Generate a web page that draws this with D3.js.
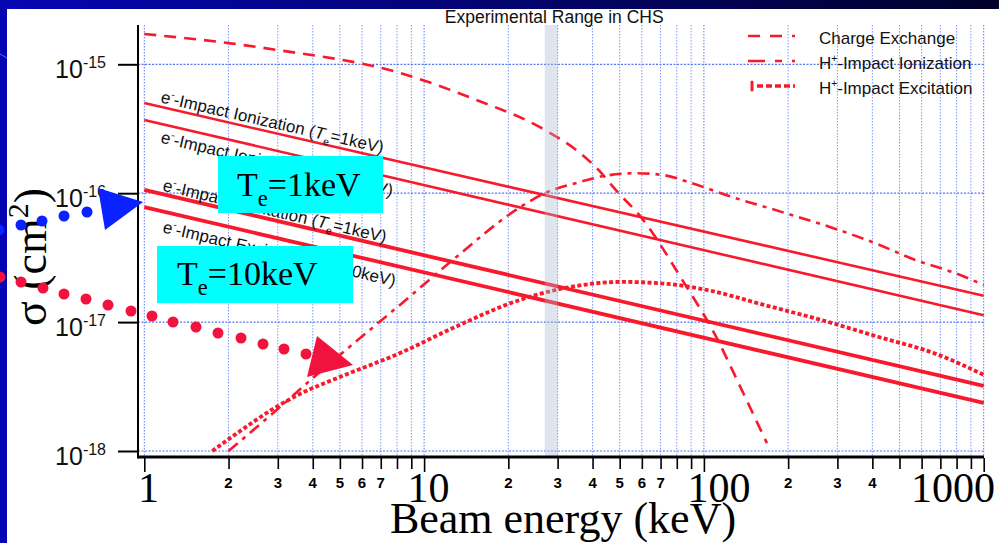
<!DOCTYPE html>
<html>
<head>
<meta charset="utf-8">
<script src="https://cdn.jsdelivr.net/npm/d3@7"></script>
<style>
    body { margin: 0; background: #ffffff; }
    svg { display: block; }
</style>
</head>
<body>
<div id="chart"></div>
<script>
// ---- values: beam energy (keV) -> cross section (cm^2) ----
const cxEnergy = [1, 2, 3, 8, 15, 27, 35, 41, 50, 58, 84, 112, 131, 168];
const cxSigma = [1.72e-15, 1.46e-15, 1.29e-15, 8.7e-16, 5.4e-16, 3.1e-16, 2.16e-16, 1.6e-16, 9.8e-17, 7.0e-17, 2.1e-17, 7.3e-18, 3.6e-18, 1.15e-18];

const hIonEnergy = [2, 3, 4, 6.8, 8.2, 12.4, 22.4, 27, 36, 44, 57, 72, 90, 127, 192, 287, 409, 578, 791, 1000];
const hIonSigma = [1.0e-18, 2.12e-18, 3.68e-18, 9.7e-18, 1.36e-17, 2.92e-17, 7.96e-17, 1.0e-16, 1.22e-16, 1.36e-16, 1.43e-16, 1.38e-16, 1.2e-16, 9.3e-17, 7.1e-17, 5.4e-17, 4.1e-17, 3.0e-17, 2.4e-17, 1.94e-17];

const hExcEnergy = [1.75, 2.08, 3, 3.6, 5, 8.2, 13.1, 21.1, 31.9, 51, 74, 102, 164, 262, 419, 675, 1000];
const hExcSigma = [1.0e-18, 1.31e-18, 2.23e-18, 2.77e-18, 3.75e-18, 5.75e-18, 9.3e-18, 1.44e-17, 1.84e-17, 2.05e-17, 1.98e-17, 1.78e-17, 1.36e-17, 1.04e-17, 7.7e-18, 5.67e-18, 3.9e-18];

// electron impact lines (straight in log-log)
const eLineEnergy = [1, 1000];
const eIon1Sigma = [5.0e-16, 1.6e-17];
const eIon10Sigma = [3.7e-16, 1.13e-17];
const eExc1Sigma = [1.06e-16, 3.2e-18];
const eExc10Sigma = [7.8e-17, 2.36e-18];

const eLineNames = ["Ionization", "Ionization", "Excitation", "Excitation"];
const eLineTemps = ["1keV", "10keV", "1keV", "10keV"];

const legendNames = ["Charge Exchange", "Impact Ionization", "Impact Excitation"];

const majorTicks = [1, 10, 100, 1000];
const majorTickLabels = ["1", "10", "100", "1000"];
const minorTicks = [2, 3, 4, 5, 6, 7, 8, 9, 20, 30, 40, 50, 60, 70, 80, 90, 200, 300, 400, 500, 600, 700, 800, 900];
const labeledMinorTicks = [2, 3, 4, 5, 6, 7, 20, 30, 40, 50, 60, 70, 200, 300, 400];
const minorTickLabels = ["2", "3", "4", "5", "6", "7", "2", "3", "4", "5", "6", "7", "2", "3", "4"];
const yTicks = [1e-15, 1e-16, 1e-17, 1e-18];
const yTickExponents = ["-15", "-16", "-17", "-18"];

const bandRange = [27, 30];
const boxTemps = ["1keV", "10keV"];

// ---- layout ----
const WIDTH = 999;
const HEIGHT = 543;
const PLOT = {left: 138, right: 984, top: 25, bottom: 457};
const RED = "#f81a2c";
const SANS = "'Liberation Sans', Arial, Helvetica, sans-serif";
const SERIF = "'Liberation Serif', 'Times New Roman', serif";

// slide overlays (pixel positions)
const BOXES = [
    {x: 218, y: 156, w: 165, h: 57, textX: 237, baseline: 196},
    {x: 157, y: 246, w: 196, h: 57, textX: 177, baseline: 285}
];
const BLUE_DOTS = [[-1, 230], [21, 225], [42, 221], [64, 216], [87, 212]];
const BLUE_HEAD = [[98, 188], [143, 202], [105, 230]];
const RED_DOTS = [[0, 277], [21, 282], [43, 288], [64, 294], [86, 299], [108, 305], [131, 311], [152, 316],
    [173, 322], [196, 327], [218, 333], [241, 338], [263, 344], [284, 349], [306, 354]];
const RED_HEAD = [[317, 336], [353, 365], [307, 377]];

let xScale = d3.scaleLog().domain([1, 1000]).range([144.3, 983.7]);
let yScale = d3.scaleLog().domain([1e-18, 1e-15]).range([451, 64.3]);

// writes text with sub/superscript pieces
const appendRich = (textSel, parts, size) => {
    let shift = 0;
    parts.forEach((p) => {
        let target = p.sup ? -size * 0.4 : (p.sub ? size * 0.28 : 0);
        textSel.append("tspan")
            .attr("dy", target - shift)
            .attr("font-size", (p.sup || p.sub) ? size * (p.scale || 0.62) : size)
            .attr("font-style", p.italic ? "italic" : null)
            .text(p.t);
        shift = target;
    });
}

let svg = d3.select("#chart")
    .append("svg")
        .attr("width", WIDTH)
        .attr("height", HEIGHT);

// Slide background
let grad = svg.append("defs").append("linearGradient")
    .attr("id", "topband").attr("x1", "0").attr("x2", "1").attr("y1", "0").attr("y2", "0");
grad.append("stop").attr("offset", "0").attr("stop-color", "#0606b4");
grad.append("stop").attr("offset", "1").attr("stop-color", "#00002a");
svg.append("rect").attr("width", WIDTH).attr("height", HEIGHT).attr("fill", "#0404b2");
svg.append("rect").attr("width", WIDTH).attr("height", 9).attr("fill", "url(#topband)");
svg.append("rect").attr("x", 7).attr("y", 9).attr("width", WIDTH - 7).attr("height", HEIGHT - 9).attr("fill", "#ffffff");
svg.append("line").attr("x1", 0).attr("y1", 54).attr("x2", 7).attr("y2", 58)
    .attr("stroke", "#4d6dff").attr("stroke-width", 1);

svg.append("clipPath").attr("id", "plotclip")
    .append("rect")
        .attr("x", PLOT.left).attr("y", PLOT.top)
        .attr("width", PLOT.right - PLOT.left).attr("height", PLOT.bottom - PLOT.top);

// Grid
let allTicks = majorTicks.concat(minorTicks);
svg.append("g").selectAll("line")
    .data(allTicks)
    .join("line")
        .attr("x1", (d) => xScale(d)).attr("x2", (d) => xScale(d))
        .attr("y1", PLOT.top).attr("y2", PLOT.bottom)
        .attr("stroke", (d) => majorTicks.includes(d) ? "#5b78f5" : "#7f98fb")
        .attr("stroke-width", 1)
        .attr("stroke-dasharray", "1.5,1.5");
svg.append("g").selectAll("line")
    .data(yTicks)
    .join("line")
        .attr("x1", PLOT.left).attr("x2", PLOT.right)
        .attr("y1", (d) => yScale(d)).attr("y2", (d) => yScale(d))
        .attr("stroke", "#5575f5")
        .attr("stroke-width", 1.2)
        .attr("stroke-dasharray", "2,1.5");

// Curves
let plot = svg.append("g").attr("clip-path", "url(#plotclip)");
let curveLine = d3.line()
    .x((d) => xScale(d[0]))
    .y((d) => yScale(d[1]))
    .curve(d3.curveMonotoneX);
let straightLine = d3.line()
    .x((d) => xScale(d[0]))
    .y((d) => yScale(d[1]));

let eLines = [eIon1Sigma, eIon10Sigma, eExc1Sigma, eExc10Sigma];
eLines.forEach((sig, i) => {
    plot.append("path")
        .datum(d3.zip(eLineEnergy, sig))
        .attr("fill", "none")
        .attr("stroke", RED)
        .attr("stroke-width", i < 2 ? 2.6 : 3.8)
        .attr("d", straightLine);
});

let hCurves = [
    {e: cxEnergy, s: cxSigma, dash: "12,8", w: 2.6},
    {e: hIonEnergy, s: hIonSigma, dash: "12,6,4,6", w: 2.6},
    {e: hExcEnergy, s: hExcSigma, dash: "4,2.4", w: 3.8}
];
hCurves.forEach((c) => {
    plot.append("path")
        .datum(d3.zip(c.e, c.s))
        .attr("fill", "none")
        .attr("stroke", RED)
        .attr("stroke-width", c.w)
        .attr("stroke-dasharray", c.dash)
        .attr("d", curveLine);
});

// Experimental range band
svg.append("rect")
    .attr("x", xScale(bandRange[0]))
    .attr("y", PLOT.top)
    .attr("width", xScale(bandRange[1]) - xScale(bandRange[0]))
    .attr("height", PLOT.bottom - PLOT.top)
    .attr("fill", "#a4b8c9")
    .attr("opacity", 0.36);
svg.append("text")
    .attr("x", (xScale(bandRange[0]) + xScale(bandRange[1])) / 2 + 3)
    .attr("y", 23)
    .attr("text-anchor", "middle")
    .attr("font-family", SANS)
    .attr("font-size", 17.5)
    .attr("fill", "#111")
    .text("Experimental Range in CHS");

// Line labels along the electron impact lines
let labelOffsets = [-4.5, 19, -3.5, 21];
eLines.forEach((sig, i) => {
    let x0 = xScale(eLineEnergy[0]), x1 = xScale(eLineEnergy[1]);
    let y0 = yScale(sig[0]), y1 = yScale(sig[1]);
    let slope = (y1 - y0) / (x1 - x0);
    let angle = Math.atan(slope) * 180 / Math.PI;
    let sx = 160 + (i > 1 ? 2 : 0);
    let sy = y0 + slope * (sx - x0) + labelOffsets[i];
    let t = svg.append("text")
        .attr("transform", "translate(" + sx + "," + sy + ") rotate(" + angle + ")")
        .attr("font-family", SANS)
        .attr("fill", "#111");
    appendRich(t, [
        {t: "e"}, {t: "-", sup: true}, {t: "-Impact " + eLineNames[i] + " ("},
        {t: "T", italic: true}, {t: "e", sub: true}, {t: "=" + eLineTemps[i] + ")"}
    ], 17);
});

// Render x-axis
svg.append("line")
    .attr("x1", PLOT.left).attr("x2", PLOT.right)
    .attr("y1", PLOT.bottom).attr("y2", PLOT.bottom)
    .attr("stroke", "#000").attr("stroke-width", 3);
let xAxis = svg.append("g")
    .attr("transform", "translate(0," + (PLOT.bottom + 1) + ")")
    .call(d3.axisBottom(xScale)
        .tickValues(allTicks)
        .tickSize(13)
        .tickSizeOuter(0)
        .tickFormat(""));
xAxis.select(".domain").remove();
xAxis.selectAll(".tick line")
    .attr("stroke", "#000")
    .attr("stroke-width", 1.6)
    .attr("y2", (d) => majorTicks.includes(d) ? 14 : 11);

svg.append("g").selectAll("text")
    .data(labeledMinorTicks)
    .join("text")
        .attr("x", (d) => xScale(d))
        .attr("y", 488)
        .attr("text-anchor", "middle")
        .attr("font-family", SANS)
        .attr("font-weight", "bold")
        .attr("font-size", 15)
        .text((d, i) => minorTickLabels[i]);

majorTicks.forEach((v, i) => {
    let t = svg.append("text")
        .attr("y", 502)
        .attr("font-family", SERIF)
        .attr("font-size", 42)
        .text(majorTickLabels[i]);
    let w = t.node().getComputedTextLength();
    let x = Math.max(xScale(v) - 16.5, PLOT.left);
    x = Math.min(x, 995 - w);
    t.attr("x", x);
});

svg.append("text")
    .attr("x", 563)
    .attr("y", 533)
    .attr("text-anchor", "middle")
    .attr("font-family", SERIF)
    .attr("font-size", 44)
    .text("Beam energy (keV)");

// Render y-axis
svg.append("line")
    .attr("x1", PLOT.left).attr("x2", PLOT.left)
    .attr("y1", PLOT.top).attr("y2", PLOT.bottom + 1.5)
    .attr("stroke", "#000").attr("stroke-width", 2);
let yAxis = svg.append("g")
    .attr("transform", "translate(" + PLOT.left + ",0)")
    .call(d3.axisLeft(yScale)
        .tickValues(yTicks)
        .tickSize(20)
        .tickSizeOuter(0)
        .tickFormat(""));
yAxis.select(".domain").remove();
yAxis.selectAll(".tick line")
    .attr("stroke", "#000")
    .attr("stroke-width", 2);

yTicks.forEach((v, i) => {
    let t = svg.append("text")
        .attr("x", 106)
        .attr("y", yScale(v) + 14)
        .attr("text-anchor", "end")
        .attr("font-family", SANS)
        .attr("fill", "#111");
    appendRich(t, [{t: "10"}, {t: yTickExponents[i], sup: true, scale: 0.64}], 25);
});

let yTitle = svg.append("text")
    .attr("transform", "translate(46,257) rotate(-90)")
    .attr("text-anchor", "middle")
    .attr("font-family", SERIF);
appendRich(yTitle, [{t: "σ (cm"}, {t: "2", sup: true, scale: 0.65}, {t: ")"}], 46);

// Legend
let legendY = [43.5, 68.5, 93.5];
let legendDash = ["12,10", "17,10,7,10", "6,3"];
legendNames.forEach((name, i) => {
    let ly = legendY[i] - 7.5;
    if(i === 2) {
        svg.append("line")
            .attr("x1", 752).attr("x2", 752)
            .attr("y1", ly - 4).attr("y2", ly + 4)
            .attr("stroke", RED).attr("stroke-width", 3).attr("stroke-linecap", "round");
    }
    svg.append("line")
        .attr("x1", i === 2 ? 757 : 748).attr("x2", 795)
        .attr("y1", ly).attr("y2", ly)
        .attr("stroke", RED)
        .attr("stroke-width", i === 2 ? 3.6 : 2.6)
        .attr("stroke-dasharray", legendDash[i]);
    let t = svg.append("text")
        .attr("x", 819)
        .attr("y", legendY[i])
        .attr("font-family", SANS)
        .attr("fill", "#111");
    if(i === 0) {
        appendRich(t, [{t: name}], 17);
    } else {
        appendRich(t, [{t: "H"}, {t: "+", sup: true, scale: 0.6}, {t: "-" + name}], 17);
    }
});

// Slide overlays: temperature boxes and arrows
BOXES.forEach((b, i) => {
    svg.append("rect")
        .attr("x", b.x).attr("y", b.y)
        .attr("width", b.w).attr("height", b.h)
        .attr("fill", "#00ffff");
    let t = svg.append("text")
        .attr("x", b.textX)
        .attr("y", b.baseline)
        .attr("font-family", SERIF)
        .attr("fill", "#000");
    appendRich(t, [{t: "T"}, {t: "e", sub: true, scale: 0.66}, {t: "=" + boxTemps[i]}], 34);
});

svg.append("g").selectAll("circle")
    .data(BLUE_DOTS)
    .join("circle")
        .attr("cx", (d) => d[0]).attr("cy", (d) => d[1])
        .attr("r", 5.5).attr("fill", "#0a22ff");
svg.append("polygon")
    .attr("points", BLUE_HEAD.map((p) => p.join(",")).join(" "))
    .attr("fill", "#0a22ff");

svg.append("g").selectAll("circle")
    .data(RED_DOTS)
    .join("circle")
        .attr("cx", (d) => d[0]).attr("cy", (d) => d[1])
        .attr("r", 5.5).attr("fill", "#f2123e");
svg.append("polygon")
    .attr("points", RED_HEAD.map((p) => p.join(",")).join(" "))
    .attr("fill", "#f2123e");
</script>
</body>
</html>
